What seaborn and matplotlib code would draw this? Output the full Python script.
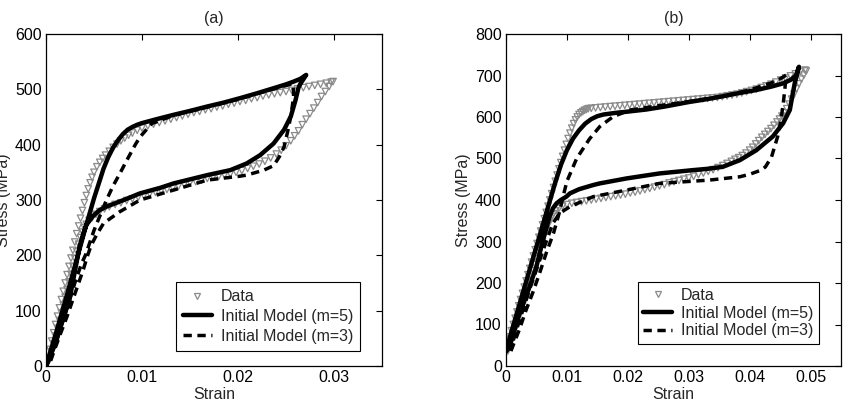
import numpy as np
import pandas as pd
import matplotlib
matplotlib.use("Agg")
import matplotlib.pyplot as plt
from matplotlib.lines import Line2D
import seaborn as sns

# ---------------- Panel (a) ----------------
a_data_load_strain = [0, 0.0002, 0.0004, 0.0006, 0.0008, 0.0010, 0.0012, 0.0014, 0.0016, 0.0018,
                      0.0020, 0.0022, 0.0024, 0.0026, 0.0028, 0.0030, 0.0032, 0.0034, 0.0036, 0.0038,
                      0.0040, 0.0042, 0.0044, 0.0046, 0.0048, 0.0050, 0.0053, 0.0056, 0.0059, 0.0062,
                      0.0066, 0.0070, 0.0074, 0.0078, 0.0082, 0.0086, 0.0090, 0.0095, 0.0100,
                      0.0106, 0.0112, 0.0118, 0.0124, 0.0130, 0.0136, 0.0142, 0.0148, 0.0154, 0.0160,
                      0.0166, 0.0172, 0.0178, 0.0184, 0.0190, 0.0196, 0.0202, 0.0208, 0.0214, 0.0220,
                      0.0226, 0.0232, 0.0238, 0.0244, 0.0250, 0.0256, 0.0262, 0.0268, 0.0274, 0.0280,
                      0.0286, 0.0292, 0.0297]
a_data_load_stress = [0, 15, 30, 45, 60, 75, 90, 105, 120, 135,
                      150, 165, 180, 195, 209, 224, 239, 253, 267, 281,
                      295, 308, 320, 331, 341, 350, 360, 368, 375, 381,
                      388, 395, 401, 407, 412, 417, 421, 426, 430,
                      434, 437, 440, 443, 446, 449, 452, 455, 458, 460,
                      463, 465, 468, 470, 473, 475, 478, 480, 483, 485,
                      488, 490, 492, 494, 496, 498, 501, 503, 505, 507,
                      509, 511, 513]
a_data_unload_strain = [0.0299, 0.0295, 0.0291, 0.0287, 0.0283, 0.0279, 0.0275, 0.0271, 0.0267, 0.0263,
                        0.0259, 0.0255, 0.0250, 0.0245, 0.0240, 0.0234, 0.0228, 0.0222, 0.0216, 0.0210,
                        0.0204, 0.0198, 0.0192, 0.0186, 0.0180, 0.0174, 0.0168, 0.0162, 0.0156, 0.0150,
                        0.0144, 0.0138, 0.0132, 0.0126, 0.0120, 0.0114, 0.0108, 0.0102, 0.0096, 0.0090,
                        0.0084, 0.0078, 0.0072, 0.0066, 0.0061, 0.0056, 0.0052, 0.0048, 0.0045, 0.0042,
                        0.0040, 0.0038, 0.0036, 0.0034, 0.0032, 0.0030, 0.0028, 0.0026, 0.0024, 0.0022,
                        0.0020, 0.0018, 0.0016, 0.0014, 0.0012, 0.0010, 0.0008, 0.0006, 0.0004]
a_data_unload_stress = [514, 505, 496, 487, 476, 466, 456, 446, 436, 425,
                        416, 407, 398, 390, 383, 376, 370, 365, 361, 357,
                        353, 350, 347, 345, 343, 341, 339, 336, 333, 331,
                        328, 325, 322, 319, 317, 314, 311, 308, 305, 302,
                        299, 295, 292, 288, 284, 279, 274, 268, 263, 256,
                        250, 242, 232, 220, 207, 194, 180, 166, 152, 138,
                        124, 110, 96, 82, 68, 54, 40, 26, 12]

a_m5_strain = [0, 0.001, 0.002, 0.003, 0.004, 0.005, 0.006, 0.0065, 0.007, 0.0075, 0.008, 0.0085,
               0.009, 0.0095, 0.010, 0.0115, 0.0133, 0.015, 0.0168, 0.0185, 0.0202, 0.022, 0.0237,
               0.025, 0.0258, 0.0265, 0.0271,
               0.0268, 0.0265, 0.0263, 0.0260, 0.0255, 0.0248, 0.0237, 0.0223, 0.0209, 0.0192,
               0.0168, 0.0133, 0.0119, 0.0098, 0.0081, 0.0063, 0.0056, 0.0049, 0.0046, 0.0042,
               0.0039, 0.0035, 0.0025, 0.0011, 0.0001]
a_m5_stress = [0, 57, 117, 180, 243, 303, 357, 378, 395, 408, 419, 427,
               432, 436, 439, 446, 454, 461, 469, 476, 484, 493, 502,
               509, 514, 519, 526,
               518, 510, 503, 481, 451, 427, 402, 381, 366, 354,
               345, 330, 322, 312, 300, 288, 282, 271, 264, 255,
               240, 216, 125, 47, 3]

a_m3_strain = [0, 0.0008, 0.0015, 0.0022, 0.003, 0.0037, 0.0041, 0.005, 0.0057, 0.0063, 0.007,
               0.0077, 0.0083, 0.0088, 0.0093, 0.0098, 0.0104, 0.011, 0.0133, 0.0168, 0.0202,
               0.0237, 0.0257,
               0.0258, 0.0257, 0.0256, 0.0253, 0.0248, 0.0243, 0.0237, 0.0227, 0.0209, 0.0202,
               0.0168, 0.0133, 0.0098, 0.0077, 0.006, 0.0053, 0.0047, 0.0043, 0.0039, 0.0034,
               0.0028, 0.0022, 0.0015, 0.0008, 0.0003]
a_m3_stress = [0, 32, 68, 105, 150, 185, 200, 245, 275, 300, 326,
               348, 368, 384, 400, 414, 426, 438, 453, 468, 483,
               501, 510,
               492, 475, 463, 433, 396, 378, 362, 354, 345, 343,
               336, 318, 300, 279, 258, 238, 218, 198, 175, 150,
               120, 90, 58, 25, 0]

# ---------------- Panel (b) ----------------
b_data_load_strain = [0.0000, 0.0003, 0.0006, 0.0009, 0.0012, 0.0015, 0.0018, 0.0021, 0.0024, 0.0027,
                      0.0030, 0.0033, 0.0036, 0.0039, 0.0042, 0.0045, 0.0048, 0.0051, 0.0054, 0.0057,
                      0.0060, 0.0063, 0.0066, 0.0069, 0.0072, 0.0075, 0.0078, 0.0081, 0.0084, 0.0087,
                      0.0090, 0.0093, 0.0096, 0.0099, 0.0102, 0.0105, 0.0108, 0.0111, 0.0114, 0.0117,
                      0.0120, 0.0123, 0.0126, 0.0129, 0.0132, 0.0135, 0.0140, 0.0147,
                      0.0155, 0.0163, 0.0171, 0.0179, 0.0187, 0.0195, 0.0203, 0.0211, 0.0219, 0.0227,
                      0.0235, 0.0243, 0.0251, 0.0259, 0.0267, 0.0275, 0.0283, 0.0291, 0.0299, 0.0307,
                      0.0315, 0.0323, 0.0331, 0.0339, 0.0347,
                      0.0355, 0.0363, 0.0371, 0.0379, 0.0387, 0.0395, 0.0403, 0.0411, 0.0419, 0.0427,
                      0.0435, 0.0443, 0.0451, 0.0459, 0.0467, 0.0475, 0.0483, 0.0491]
b_data_load_stress = [40, 55, 70, 85, 100, 115, 130, 145, 160, 175,
                      190, 205, 220, 235, 250, 265, 280, 295, 310, 325,
                      340, 355, 370, 385, 400, 415, 430, 445, 460, 475,
                      490, 505, 520, 534, 548, 561, 573, 584, 593, 600,
                      606, 610, 613, 616, 618, 620, 621, 622,
                      623, 624, 625, 626, 627, 628, 629, 630, 631, 632,
                      633, 634, 635, 636, 637, 638, 639, 640, 641, 642,
                      643, 644, 645, 646, 647,
                      649, 651, 653, 655, 658, 661, 664, 667, 671, 675,
                      679, 684, 689, 694, 699, 704, 709, 713]
b_data_unload_strain = [0.0493, 0.0489, 0.0485, 0.0481, 0.0477, 0.0473, 0.0469, 0.0465, 0.0461, 0.0457,
                        0.0453, 0.0449, 0.0445,
                        0.0440, 0.0435, 0.0430, 0.0425, 0.0420, 0.0415, 0.0410, 0.0405, 0.0400,
                        0.0394, 0.0388, 0.0382, 0.0376, 0.0370, 0.0363, 0.0356,
                        0.0348, 0.0340, 0.0332, 0.0324, 0.0316, 0.0308, 0.0300, 0.0292, 0.0284, 0.0276,
                        0.0268, 0.0260, 0.0252, 0.0244, 0.0236, 0.0228, 0.0220, 0.0212, 0.0204, 0.0196,
                        0.0188, 0.0180, 0.0172, 0.0164, 0.0156, 0.0148, 0.0140, 0.0132, 0.0124, 0.0116,
                        0.0108, 0.0100,
                        0.0093, 0.0087, 0.0082, 0.0078, 0.0075, 0.0072,
                        0.0069, 0.0066, 0.0063, 0.0060, 0.0057, 0.0054, 0.0051, 0.0048, 0.0045, 0.0042,
                        0.0039, 0.0036, 0.0033, 0.0030, 0.0027, 0.0024, 0.0021, 0.0018, 0.0015, 0.0012,
                        0.0009, 0.0006, 0.0003]
b_data_unload_stress = [711, 701, 691, 680, 668, 655, 643, 631, 620, 610,
                        602, 595, 588,
                        580, 572, 565, 558, 551, 543, 535, 527, 520,
                        513, 507, 502, 498, 493, 488, 483,
                        478, 473, 469, 465, 461, 457, 453, 450, 447, 444,
                        441, 437, 434, 431, 428, 425, 422, 419, 417, 414,
                        412, 410, 408, 406, 404, 402, 400, 398, 396, 394,
                        392, 389,
                        385, 380, 374, 367, 359, 350,
                        339, 328, 314, 300, 286, 272, 258, 244, 230, 216,
                        202, 188, 174, 160, 146, 132, 118, 104, 90, 76,
                        62, 48, 36]

b_m5_strain = [0, 0.001, 0.002, 0.003, 0.004, 0.005, 0.006, 0.007, 0.008, 0.009, 0.010, 0.011,
               0.012, 0.013, 0.014, 0.015, 0.016, 0.018, 0.020, 0.023, 0.026, 0.030, 0.033,
               0.0356, 0.038, 0.0411, 0.0435, 0.0455, 0.0468, 0.0476, 0.0481,
               0.0479, 0.0474, 0.0470, 0.0466, 0.0455, 0.0438, 0.0411, 0.0384, 0.0356, 0.0330,
               0.0307, 0.0252, 0.0198, 0.0154, 0.0143, 0.0120, 0.0105, 0.0099, 0.0090, 0.0083,
               0.0077, 0.0072, 0.0060, 0.0050, 0.0036, 0.0022, 0.0006, 0.0001]
b_m5_stress = [38, 88, 138, 188, 238, 288, 338, 388, 438, 484, 520, 548,
               568, 584, 595, 602, 606, 610, 613, 618, 625, 636, 643,
               650, 657, 665, 673, 681, 690, 700, 721,
               710, 681, 650, 617, 585, 553, 520, 496, 480, 475,
               472, 464, 452, 440, 436, 426, 416, 408, 400, 392,
               380, 362, 300, 240, 180, 125, 48, 36]

b_m3_strain = [0.0008, 0.0015, 0.0022, 0.0033, 0.0044, 0.0055, 0.0066, 0.0078, 0.0088, 0.0094,
               0.0100, 0.0116, 0.0137, 0.0154, 0.0176, 0.0204, 0.0250, 0.0300, 0.0356, 0.0400,
               0.0435, 0.0450, 0.0460,
               0.0458, 0.0455, 0.0451, 0.0446, 0.0436, 0.0426, 0.0419, 0.0400, 0.0384, 0.0334,
               0.0252, 0.0198, 0.0143, 0.0105, 0.0088, 0.0077, 0.0069, 0.0060, 0.0050, 0.0040,
               0.0030, 0.0020, 0.0012, 0.0008]
b_m3_stress = [36, 62, 88, 135, 177, 223, 272, 320, 372, 410,
               445, 500, 547, 577, 601, 617, 627, 637, 650, 665,
               682, 692, 701,
               670, 630, 590, 553, 504, 480, 472, 462, 456, 448,
               440, 424, 408, 384, 368, 344, 312, 275, 232, 190,
               145, 100, 62, 38]

panel_titles = ["(a)", "(b)"]
legend_labels = ["Data", "Initial Model (m=5)", "Initial Model (m=3)"]
a_xticks = [0, 0.01, 0.02, 0.03]
a_xticklabels = ["0", "0.01", "0.02", "0.03"]
b_xticks = [0, 0.01, 0.02, 0.03, 0.04, 0.05]
b_xticklabels = ["0", "0.01", "0.02", "0.03", "0.04", "0.05"]

sns.set_theme(style="white")
plt.rcParams["font.family"] = ["Liberation Sans", "DejaVu Sans"]

GRAY = "#8a8a8a"
DASH = (0, (2.4, 1.6))

fig = plt.figure(figsize=(8.48, 4.12), dpi=100)
ax1 = fig.add_axes([46 / 848, 46 / 412, 336 / 848, 332 / 412])
ax2 = fig.add_axes([506 / 848, 46 / 412, 335 / 848, 332 / 412])


def draw_panel(ax, dl_x, dl_y, du_x, du_y, m5_x, m5_y, m3_x, m3_y):
    data = pd.DataFrame({"strain": list(dl_x) + list(du_x),
                         "stress": list(dl_y) + list(du_y)})
    sns.scatterplot(data=data, x="strain", y="stress", ax=ax, marker="v",
                    s=22, facecolors="none", edgecolor=GRAY, linewidth=0.9,
                    zorder=2, legend=False)
    m3 = pd.DataFrame({"strain": m3_x, "stress": m3_y})
    sns.lineplot(data=m3, x="strain", y="stress", ax=ax, sort=False, estimator=None,
                 color="black", linewidth=2.5, linestyle=DASH, zorder=3)
    m5 = pd.DataFrame({"strain": m5_x, "stress": m5_y})
    sns.lineplot(data=m5, x="strain", y="stress", ax=ax, sort=False, estimator=None,
                 color="black", linewidth=3.2, zorder=4)


draw_panel(ax1, a_data_load_strain, a_data_load_stress, a_data_unload_strain,
           a_data_unload_stress, a_m5_strain, a_m5_stress, a_m3_strain, a_m3_stress)
draw_panel(ax2, b_data_load_strain, b_data_load_stress, b_data_unload_strain,
           b_data_unload_stress, b_m5_strain, b_m5_stress, b_m3_strain, b_m3_stress)

ax1.set_xlim(0, 0.035)
ax1.set_ylim(0, 600)
ax1.set_xticks(a_xticks)
ax1.set_xticklabels(a_xticklabels)
ax1.set_yticks(range(0, 601, 100))
ax2.set_xlim(0, 0.055)
ax2.set_ylim(0, 800)
ax2.set_xticks(b_xticks)
ax2.set_xticklabels(b_xticklabels)
ax2.set_yticks(range(0, 801, 100))

handles = [
    Line2D([], [], linestyle="none", marker="v", markersize=4.7, markerfacecolor="none",
           markeredgecolor=GRAY, markeredgewidth=0.9),
    Line2D([], [], color="black", linewidth=3.2),
    Line2D([], [], color="black", linewidth=2.5, linestyle=DASH),
]

for ax, title, anchor, lsp, bpad in [(ax1, panel_titles[0], (0.935, 0.045), 0.3, 0.45),
                                     (ax2, panel_titles[1], (0.934, 0.066), 0.18, 0.35)]:
    ax.set_title(title, fontsize=11.5, pad=8)
    ax.set_xlabel("Strain", fontsize=11.5, labelpad=1)
    ax.set_ylabel("Stress (MPa)", fontsize=11.5, labelpad=3)
    ax.tick_params(direction="in", length=4, width=0.8, top=True, right=True,
                   labelsize=11.5, pad=3, color="black", labelcolor="black")
    for sp in ax.spines.values():
        sp.set_color("black")
        sp.set_linewidth(0.9)
    leg = ax.legend(handles, legend_labels, loc="lower right", bbox_to_anchor=anchor,
                    fontsize=11.5, frameon=True, fancybox=False, framealpha=1,
                    edgecolor="black", handlelength=1.8, handletextpad=0.55,
                    borderpad=bpad, labelspacing=lsp, borderaxespad=0)
    leg.get_frame().set_linewidth(0.8)

fig.savefig("out.png", dpi=100)
